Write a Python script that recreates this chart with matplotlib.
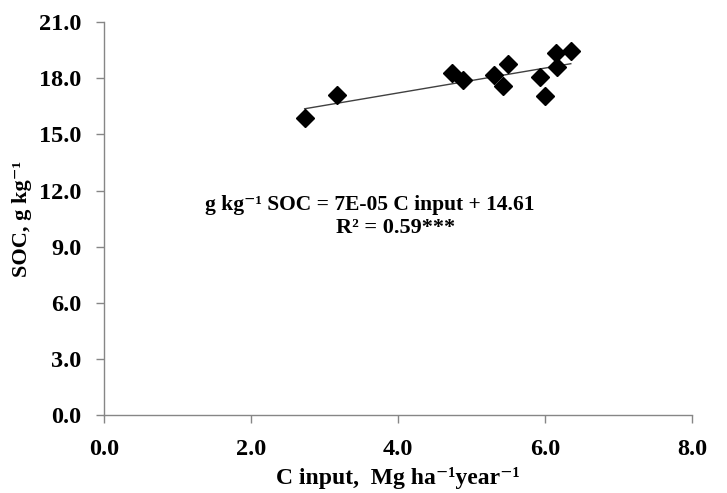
import numpy as np
import matplotlib
matplotlib.use("Agg")
import matplotlib.pyplot as plt

plt.rcParams['font.family'] = ['Liberation Serif', 'DejaVu Serif']
plt.rcParams['font.weight'] = 'bold'

c_input = [2.73, 3.17, 4.73, 4.89, 5.30, 5.43, 5.49, 5.93, 6.00, 6.15, 6.16, 6.35]
soc = [15.86, 17.10, 18.26, 17.90, 18.17, 17.58, 18.74, 18.08, 17.05, 19.33, 18.62, 19.45]
x_ticks = [0.0, 2.0, 4.0, 6.0, 8.0]
y_ticks = [0.0, 3.0, 6.0, 9.0, 12.0, 15.0, 18.0, 21.0]

axis_gray = '#868686'

fig = plt.figure(figsize=(7.27, 4.93), dpi=100)
ax = fig.add_axes([0.143, 0.158, 0.809, 0.797])

x = np.array(c_input)
y = np.array(soc)
slope, intercept = np.polyfit(x, y, 1)
xl = np.array([x.min(), x.max()])
ax.plot(xl, slope * xl + intercept, color='#404040', lw=1.0, zorder=2)
ax.plot(x, y, linestyle='none', marker='D', markersize=9.5, color='black', zorder=3)

ax.set_xlim(0, 8)
ax.set_ylim(0, 21)
ax.set_xticks(x_ticks)
ax.set_yticks(y_ticks)
ax.set_xticklabels([f"{v:.1f}" for v in x_ticks])
ax.set_yticklabels([f"{v:.1f}" for v in y_ticks])
for s in ['top', 'right']:
    ax.spines[s].set_visible(False)
for s in ['left', 'bottom']:
    ax.spines[s].set_color(axis_gray)
    ax.spines[s].set_linewidth(1.0)
ax.tick_params(direction='out', length=6, width=1.0, color=axis_gray,
               labelsize=17.5, labelcolor='black')
ax.tick_params(axis='y', pad=10)
ax.tick_params(axis='x', pad=11)
for lab in ax.get_xticklabels() + ax.get_yticklabels():
    lab.set_fontweight('bold')

ax.set_xlabel("C input,  Mg ha⁻¹year⁻¹", fontsize=17, fontweight='bold', labelpad=5)
ax.set_ylabel("SOC, g kg⁻¹", fontsize=16, fontweight='bold', labelpad=5)

ax.text(3.62, 11.22, "g kg⁻¹ SOC = 7E-05 C input + 14.61", fontsize=15.5,
        fontweight='bold', ha='center', va='center')
ax.text(3.97, 10.0, "R² = 0.59***", fontsize=16, fontweight='bold',
        ha='center', va='center')

fig.savefig("out.png", dpi=100, facecolor='white')
